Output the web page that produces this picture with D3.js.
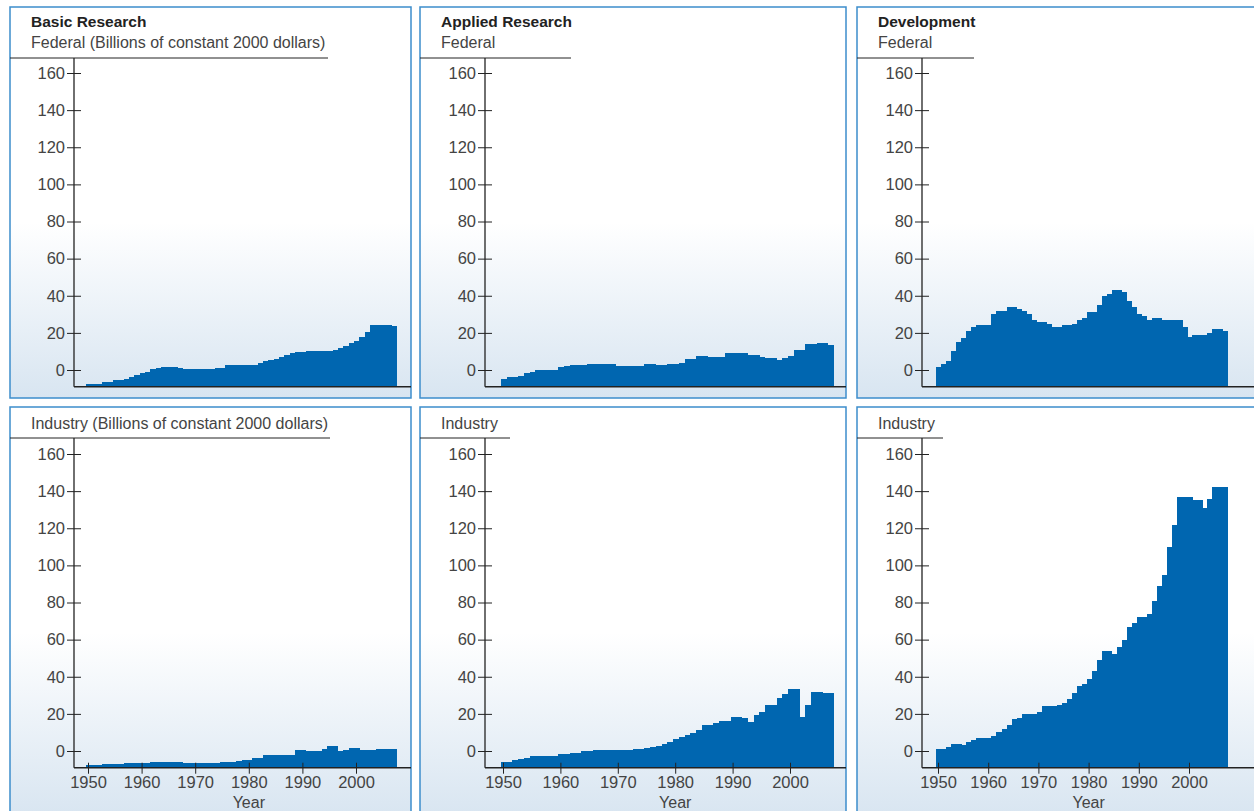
<!DOCTYPE html>
<html><head><meta charset="utf-8">
<script src="https://cdn.jsdelivr.net/npm/d3@7"></script>
<style>body{margin:0;background:#fff}svg{display:block;font-family:"Liberation Sans",Arial,sans-serif}</style>
</head><body>
<svg class="chart" width="1254" height="811"></svg>
<script>
const years = d3.range(1950, 2008);
const yTicks = [0, 20, 40, 60, 80, 100, 120, 140, 160];
const xTicks = [1950, 1960, 1970, 1980, 1990, 2000];

const basicFederal = [-7.5,-7.5,-7.5,-6.2,-6.2,-5.4,-5.4,-4.8,-4,-2.7, -1.8,-0.9,0.3,0.9,1.4,1.4,1.4,0.9,0.5,0.5,
  0.5,0.5,0.5,0.5,1.2,1.2,2.9,2.9,2.9,2.9, 2.9,2.9,3.9,4.8,5.4,6,7,7.9,8.9,9.6,
  9.6,10.2,10.4,10.4,10.4,10.4,11,11.6,12.9,14.3, 15.7,17.9,20.5,24.5,24.5,24.5,24.5,23.7];
const appliedFederal = [-4.9,-4,-4,-3.2,-1.8,-1.1,-0.2,-0.2,-0.2,-0.2, 1.4,2.2,2.7,2.7,2.7,3.2,3.2,3.1,3.1,3.1,
  2.3,2.3,2.3,2.3,2.3,3.1,3.1,2.7,2.7,3.4, 3.4,4,5.8,5.8,7.6,7.6,6.8,6.8,6.8,9,
  9,9,9,8.1,8.1,7,6.3,6.3,5.4,6.3, 7.6,10.8,10.8,13.9,13.9,14.4,14.4,13.5];
const devFederal = [1.5,3,5,10,15,17,21,23,24,24, 24,30,32,32,34,34,33,32,30,27,
  26,26,25,23,23,24,24,25,27,28, 31,31,35,40,41,43,43,42,37,34,
  30,29,27,28,28,27,27,27,27,23, 18,19,19,19,20,22,22,21];
const basicIndustry = [-7.6,-7.6,-7.6,-7,-7,-7,-7,-6.5,-6.5,-6.5, -6.5,-6.5,-5.9,-5.9,-5.9,-5.9,-5.9,-5.9,-6.5,-6.5,
  -6.5,-6.5,-6.5,-6.5,-6.5,-5.9,-5.9,-5.9,-5.4,-4.9, -4.9,-4,-4,-2.3,-2.3,-2.3,-2.3,-2.3,-2.3,0.5,
  0.5,0,0,0,0.9,2.9,2.9,-0.2,0.4,1.4, 1.4,0.7,0.7,0.7,0.9,0.9,0.9,0.9];
const appliedIndustry = [-6,-6,-5.1,-4.5,-3.6,-2.7,-2.7,-2.7,-2.7,-2.7, -1.8,-1.8,-1.3,-1.3,-0.2,-0.2,0.4,0.7,0.7,0.7,
  0.7,0.4,0.7,1.3,1.3,1.6,2.4,2.9,4,4.9, 6.2,7.3,8.4,9.8,11.3,14,14,15.3,16.2,16.2,
  18.5,18.5,17.6,15.8,19.5,20.9,24.9,24.9,28.5,30.7, 33.6,33.6,18.5,24.9,31.8,31.8,31.3,31.3];
const devIndustry = [1,1,2,4,4,3,5,6,7,7, 7,8,10,12,14,17,18,20,20,20,
  21,24,24,24,25,26,28,31,35,36, 39,43,49,54,54,52,56,60,67,69,
  72,72,74,81,89,95,110,122,137,137, 137,135,135,131,136,142,142,142];

const titles = ['Basic Research', 'Applied Research', 'Development'];
const subTop = ['Federal (Billions of constant 2000 dollars)', 'Federal', 'Federal'];
const subBottom = ['Industry (Billions of constant 2000 dollars)', 'Industry', 'Industry'];
const series = [[basicFederal, appliedFederal, devFederal], [basicIndustry, appliedIndustry, devIndustry]];

// layout
const cols = [
  { left: 10, width: 401, axisX: 74, x1950: 88, x2000: 356, rule: 328 },
  { left: 420, width: 426, axisX: 485, x1950: 503, x2000: 790, rule: 571 },
  { left: 857, width: 400, axisX: 922, x1950: 938, x2000: 1189, rule: 974 }
];
const rules2 = [330, 510, 943];
const rows = [
  { top: 7, height: 391, y0: 370, y160: 73 },
  { top: 407, height: 410, y0: 751, y160: 454 }
];

const chart = d3.select('.chart');
const defs = chart.append('defs');
const grad = defs.append('linearGradient').attr('id', 'bg').attr('x1', 0).attr('y1', 0).attr('x2', 0).attr('y2', 1);
grad.append('stop').attr('offset', '0.55').attr('stop-color', '#ffffff');
grad.append('stop').attr('offset', '1').attr('stop-color', '#d8e5f1');

rows.forEach((row, r) => {
  cols.forEach((col, c) => {
    const g = chart.append('g');
    g.append('rect').attr('x', col.left).attr('y', row.top)
      .attr('width', col.width).attr('height', row.height)
      .attr('fill', 'url(#bg)').attr('stroke', '#3c8dcc').attr('stroke-width', 1.5);

    const ys = d3.scaleLinear().domain([0, 160]).range([row.y0, row.y160]);
    const xs = d3.scaleLinear().domain([1950, 2000]).range([col.x1950, col.x2000]);
    const base = ys(-9);

    // header
    if (r === 0) {
      g.append('text').attr('x', col.left + 21).attr('y', 27).attr('font-size', 15.5)
        .attr('font-weight', 'bold').attr('fill', '#222').text(titles[c]);
      g.append('text').attr('x', col.left + 21).attr('y', 48).attr('font-size', 16)
        .attr('fill', '#444').text(subTop[c]);
      g.append('line').attr('x1', col.left).attr('x2', col.rule).attr('y1', 58).attr('y2', 58)
        .attr('stroke', '#222');
    } else {
      g.append('text').attr('x', col.left + 21).attr('y', 429).attr('font-size', 16)
        .attr('fill', '#444').text(subBottom[c]);
      g.append('line').attr('x1', col.left).attr('x2', rules2[c]).attr('y1', 438).attr('y2', 438)
        .attr('stroke', '#222');
    }

    // bars
    const data = series[r][c];
    g.selectAll('rect.bar').data(data).enter().append('rect')
      .attr('class', 'bar')
      .attr('x', (d, i) => xs(years[i] - 0.35))
      .attr('width', (d, i) => xs(years[i] + 0.6) - xs(years[i] - 0.35) + 0.6)
      .attr('y', d => ys(d))
      .attr('height', d => base - ys(d))
      .attr('shape-rendering', 'crispEdges')
      .attr('fill', '#0066b0');

    // y axis
    const ya = g.append('g').attr('transform', `translate(${col.axisX},0)`)
      .call(d3.axisLeft(ys).tickValues(yTicks).tickSize(6).tickSizeOuter(0));
    ya.select('.domain').remove();
    ya.selectAll('.tick line').attr('x1', -7).attr('x2', 7).attr('stroke', '#222');
    ya.selectAll('.tick text').attr('x', -9).attr('font-size', 16.5).attr('fill', '#444')
      .attr('font-family', '"Liberation Sans",Arial,sans-serif');
    g.append('line').attr('x1', col.axisX).attr('x2', col.axisX)
      .attr('y1', r === 0 ? 58 : 438).attr('y2', base).attr('stroke', '#222').attr('stroke-width', 1.3);

    // x axis
    g.append('line').attr('x1', col.axisX).attr('x2', col.left + col.width)
      .attr('y1', base).attr('y2', base).attr('stroke', '#222').attr('stroke-width', 1.5);
    if (r === 1) {
      const xa = g.append('g').attr('transform', `translate(0,${base})`)
        .call(d3.axisBottom(xs).tickValues(xTicks).tickFormat(d3.format('d')).tickSize(6));
      xa.select('.domain').remove();
      xa.selectAll('.tick line').attr('y1', -5).attr('y2', 6).attr('stroke', '#222');
      xa.selectAll('.tick text').attr('y', 9).attr('font-size', 16.5).attr('fill', '#444')
        .attr('font-family', '"Liberation Sans",Arial,sans-serif');
      g.append('text').attr('x', xs(1980)).attr('y', 808).attr('text-anchor', 'middle')
        .attr('font-size', 16).attr('fill', '#444').text('Year');
    }
  });
});
</script>
</body></html>
